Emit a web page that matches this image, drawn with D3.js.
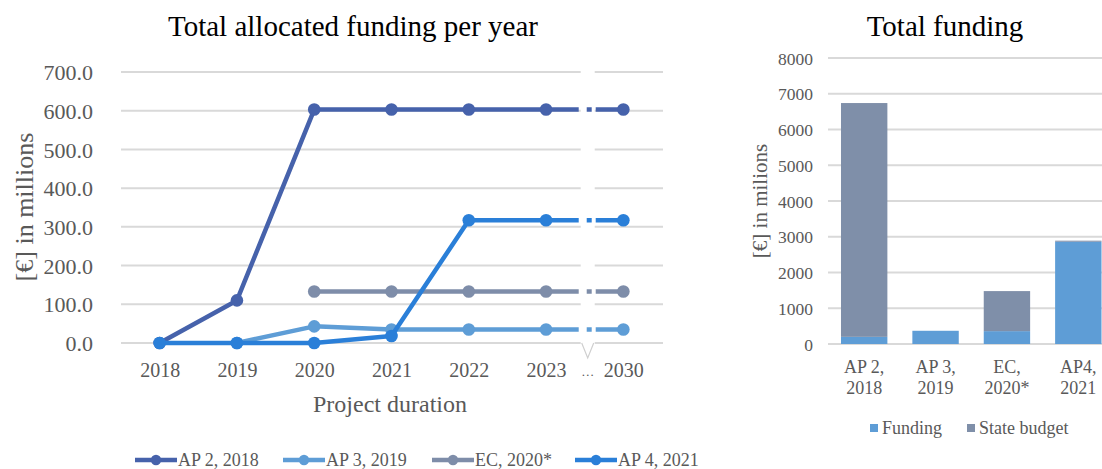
<!DOCTYPE html>
<html><head><meta charset="utf-8">
<script src="https://cdn.jsdelivr.net/npm/d3@7"></script>
<style>
html,body{margin:0;padding:0;background:#fff;}
svg{display:block;font-family:"Liberation Serif","Times New Roman",serif;}
</style></head>
<body>
<svg id="c" width="1102" height="469"></svg>
<script>
// ---- data: line chart ----
const years = ["2018","2019","2020","2021","2022","2023","2030"];
const seriesNames = ["AP 2, 2018","AP 3, 2019","EC, 2020*","AP 4, 2021"];
const ap2 = [0,110,603,603,603,603,603];
const ap3 = [null,0,43,35,35,35,35];
const ec  = [null,null,133,133,133,133,133];
const ap4 = [0,0,0,18,317,317,317];
const lineTicks = [0,100,200,300,400,500,600,700];
const seriesColors = ["#4662AB","#5E9DD6","#7E8DA9","#2A7FD8"];

// ---- data: bar chart ----
const barCats = [["AP 2,","2018"],["AP 3,","2019"],["EC,","2020*"],["AP4,","2021"]];
const funding = [200,370,360,2860];
const stateBudget = [6540,0,1120,30];
const barTicks = [0,1000,2000,3000,4000,5000,6000,7000,8000];
const barSeries = ["Funding","State budget"];
const barColors = ["#5E9DD6","#7F8FA9"];

const svg = d3.select("#c");
const grid = "#d9d9d9", txt = "#595959";
const SERIF = "Liberation Serif";

// ================= LINE CHART =================
const x = d3.scalePoint().domain(years).range([121,662]).padding(0.5);
const y = d3.scaleLinear().domain([0,700]).range([343,72]);
const gL = svg.append("g");
const brk = (x("2023")+x("2030"))/2 + 3;

// gridlines with break
lineTicks.forEach(t=>{
  gL.append("line").attr("x1",121).attr("x2",brk-7).attr("y1",y(t)).attr("y2",y(t))
    .attr("stroke",grid).attr("stroke-width",2);
  gL.append("line").attr("x1",brk+7).attr("x2",663).attr("y1",y(t)).attr("y2",y(t))
    .attr("stroke",grid).attr("stroke-width",2);
});
// break notch
gL.append("path").attr("d",`M${brk-6},${y(0)}L${brk},${y(0)+15}L${brk+6},${y(0)}`)
  .attr("fill","none").attr("stroke","#cfcfcf").attr("stroke-width",1.2);

// y axis labels
const yAx = gL.append("g").attr("transform","translate(93,0)")
  .call(d3.axisLeft(y).tickValues(lineTicks).tickFormat(d3.format(".1f")).tickSize(0).tickPadding(0));
yAx.attr("font-family",SERIF);
yAx.select(".domain").remove();
yAx.selectAll("text").attr("font-size",22).attr("fill",txt).attr("dy","0.35em");

// x axis labels
const xAx = gL.append("g").attr("transform",`translate(0,${y(0)+14})`)
  .call(d3.axisBottom(x).tickSize(0).tickPadding(0));
xAx.attr("font-family",SERIF);
xAx.select(".domain").remove();
xAx.selectAll("text").attr("font-size",20).attr("fill",txt).attr("dy","1em");
gL.append("text").attr("x",brk).attr("y",y(0)+33).attr("text-anchor","middle")
  .attr("font-size",13).attr("fill",txt).text("…");

// titles
svg.append("text").attr("x",353).attr("y",36).attr("text-anchor","middle")
  .attr("font-size",29).attr("fill","#000").text("Total allocated funding per year");
svg.append("text").attr("x",390).attr("y",412).attr("text-anchor","middle")
  .attr("font-size",24).attr("fill",txt).text("Project duration");
svg.append("text").attr("transform","translate(33,207) rotate(-90)").attr("text-anchor","middle")
  .attr("font-size",26).attr("fill",txt).text("[€] in millions");

// series
const allSeries = [ap2,ap3,ec,ap4];
const lineGen = d3.line().defined(d=>d.v!=null).x(d=>x(d.k)).y(d=>y(d.v));
allSeries.forEach((vals,i)=>{
  const pts = years.map((k,j)=>({k,v:vals[j]}));
  const col = seriesColors[i];
  gL.append("path").datum(pts.slice(0,6)).attr("d",lineGen)
    .attr("fill","none").attr("stroke",col).attr("stroke-width",4.5).attr("stroke-linejoin","round");
  const seg = pts.slice(5,7);
  const segLen = x("2030")-x("2023");
  const s1 = brk - x("2023") - 9;
  gL.append("path").datum(seg).attr("d",lineGen)
    .attr("fill","none").attr("stroke",col).attr("stroke-width",4.5)
    .attr("stroke-dasharray",`${s1},8,5,4,${segLen}`);
  gL.selectAll(null).data(pts.filter(d=>d.v!=null)).enter().append("circle")
    .attr("cx",d=>x(d.k)).attr("cy",d=>y(d.v)).attr("r",6.3).attr("fill",col);
});

// legend
const legX = [135,283,432,575];
seriesNames.forEach((n,i)=>{
  const g = svg.append("g").attr("transform",`translate(${legX[i]},460)`);
  g.append("line").attr("x1",0).attr("x2",42).attr("stroke",seriesColors[i]).attr("stroke-width",4.5);
  g.append("circle").attr("cx",21).attr("r",5.2).attr("fill",seriesColors[i]);
  g.append("text").attr("x",43).attr("y",0).attr("dy","0.35em").attr("font-size",18).attr("fill",txt).text(n);
});

// ================= BAR CHART =================
const xb = d3.scaleBand().domain(barCats.map(d=>d.join(" "))).range([828.5,1114]).paddingInner(0.35).paddingOuter(0.175);
const yb = d3.scaleLinear().domain([0,8000]).range([344,58]);
const gB = svg.append("g");
barTicks.forEach(t=>{
  gB.append("line").attr("x1",828).attr("x2",1102).attr("y1",yb(t)).attr("y2",yb(t))
    .attr("stroke",grid).attr("stroke-width",2);
});
const ybAx = gB.append("g").attr("transform","translate(813,0)")
  .call(d3.axisLeft(yb).tickValues(barTicks).tickFormat(d3.format("d")).tickSize(0).tickPadding(0));
ybAx.attr("font-family",SERIF);
ybAx.select(".domain").remove();
ybAx.selectAll("text").attr("font-size",17.5).attr("fill",txt).attr("dy","0.35em");

const stackData = barCats.map((c,i)=>({cat:c.join(" "),Funding:funding[i],"State budget":stateBudget[i]}));
const stacked = d3.stack().keys(barSeries)(stackData);
stacked.forEach((layer,li)=>{
  gB.selectAll(null).data(layer).enter().append("rect")
    .attr("x",d=>xb(d.data.cat)).attr("width",xb.bandwidth())
    .attr("y",d=>yb(d[1])).attr("height",d=>Math.max(0,yb(d[0])-yb(d[1])))
    .attr("fill",barColors[li]);
});
barCats.forEach(c=>{
  const cx = xb(c.join(" "))+xb.bandwidth()/2;
  c.forEach((line,k)=>{
    gB.append("text").attr("x",cx).attr("y",373+k*21).attr("text-anchor","middle")
      .attr("font-size",18).attr("fill",txt).text(line);
  });
});
svg.append("text").attr("x",945).attr("y",36).attr("text-anchor","middle")
  .attr("font-size",29).attr("fill","#000").text("Total funding");
svg.append("text").attr("transform","translate(767,201) rotate(-90)").attr("text-anchor","middle")
  .attr("font-size",21).attr("fill",txt).text("[€] in milions");
const bLegX = [870,967];
barSeries.forEach((n,i)=>{
  svg.append("rect").attr("x",bLegX[i]).attr("y",424).attr("width",8).attr("height",8).attr("fill",barColors[i]);
  svg.append("text").attr("x",bLegX[i]+12).attr("y",434).attr("font-size",18).attr("fill",txt).text(n);
});
</script>
</body></html>
